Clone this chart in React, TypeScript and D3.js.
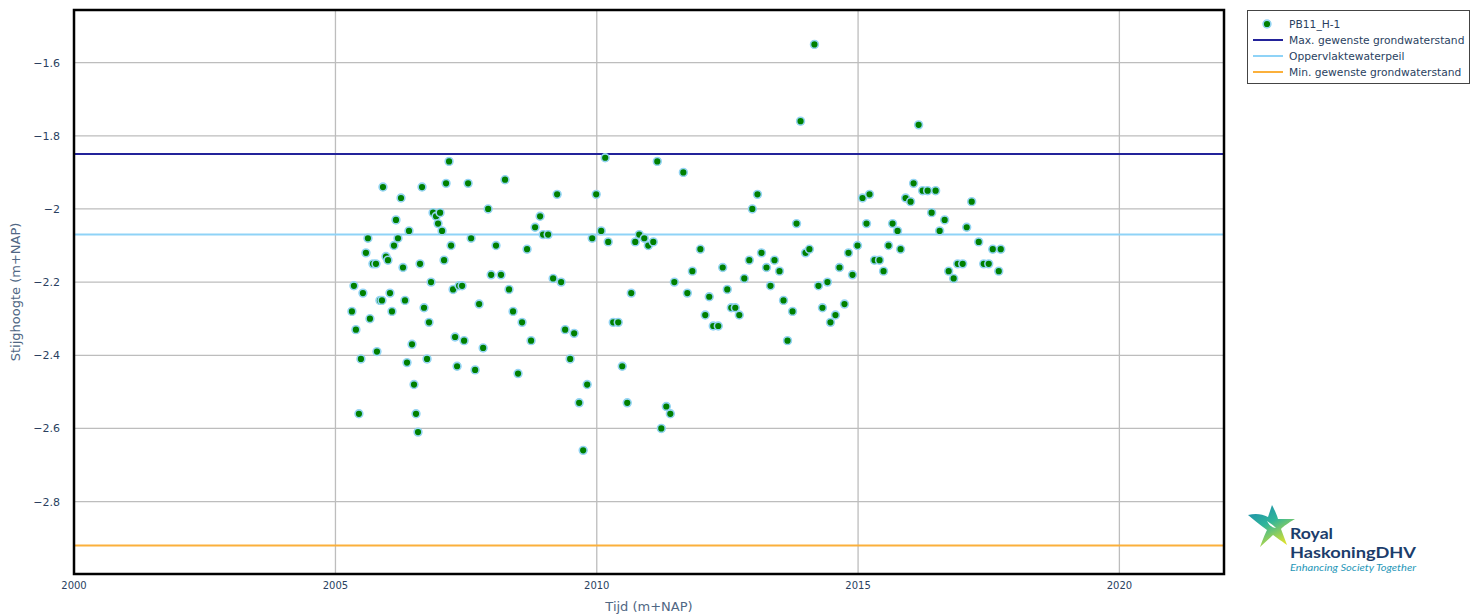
import React, { useEffect, useRef } from 'react';
import * as d3 from 'd3';

const seriesName = 'PB11_H-1';

const dates = [
  '2005-04-26', '2005-05-10', '2005-05-24', '2005-06-14', '2005-06-28', '2005-07-12', '2005-08-02', '2005-08-16',
  '2005-08-30', '2005-09-20', '2005-10-11', '2005-10-18', '2005-11-08', '2005-11-22', '2005-11-29', '2005-12-20',
  '2006-01-03', '2006-01-17', '2006-01-31', '2006-02-14', '2006-02-28', '2006-03-14', '2006-04-04', '2006-04-18',
  '2006-05-02', '2006-05-16', '2006-05-30', '2006-06-20', '2006-07-04', '2006-07-18', '2006-08-01', '2006-08-15',
  '2006-08-29', '2006-09-12', '2006-10-03', '2006-10-17', '2006-10-31', '2006-11-14', '2006-12-05', '2006-12-19',
  '2007-01-02', '2007-01-16', '2007-01-30', '2007-02-13', '2007-03-06', '2007-03-20', '2007-04-03', '2007-04-17',
  '2007-05-01', '2007-05-15', '2007-06-05', '2007-06-19', '2007-07-17', '2007-08-07', '2007-09-04', '2007-10-02',
  '2007-10-30', '2007-12-04', '2007-12-25', '2008-01-28', '2008-03-03', '2008-03-31', '2008-04-28', '2008-05-26',
  '2008-06-30', '2008-07-28', '2008-09-01', '2008-09-29', '2008-10-27', '2008-12-01', '2008-12-22', '2009-01-26',
  '2009-03-02', '2009-03-30', '2009-04-27', '2009-05-25', '2009-06-29', '2009-07-27', '2009-08-31', '2009-09-28',
  '2009-10-26', '2009-11-30', '2009-12-28', '2010-02-01', '2010-03-01', '2010-03-22', '2010-04-26', '2010-05-31',
  '2010-06-28', '2010-08-02', '2010-08-30', '2010-09-27', '2010-10-25', '2010-11-29', '2010-12-27', '2011-01-31',
  '2011-02-28', '2011-03-28', '2011-05-02', '2011-05-30', '2011-06-27', '2011-08-29', '2011-09-26', '2011-10-31',
  '2011-12-26', '2012-01-29', '2012-02-26', '2012-03-25', '2012-04-29', '2012-05-30', '2012-07-01', '2012-07-29',
  '2012-08-26', '2012-09-23', '2012-10-28', '2012-12-02', '2012-12-23', '2013-01-28', '2013-02-25', '2013-04-01',
  '2013-04-29', '2013-05-27', '2013-07-01', '2013-07-29', '2013-08-26', '2013-09-30', '2013-10-28', '2013-11-25',
  '2013-12-30', '2014-01-26', '2014-03-02', '2014-03-30', '2014-04-27', '2014-06-01', '2014-06-22', '2014-07-27',
  '2014-08-24', '2014-09-28', '2014-10-26', '2014-11-23', '2014-12-28', '2015-02-01', '2015-03-01', '2015-03-22',
  '2015-04-26', '2015-05-31', '2015-06-28', '2015-08-02', '2015-08-30', '2015-10-04', '2015-10-25', '2015-11-29',
  '2016-01-03', '2016-01-24', '2016-02-28', '2016-03-27', '2016-05-01', '2016-05-29', '2016-06-26', '2016-07-24',
  '2016-08-28', '2016-09-25', '2016-10-30', '2016-11-27', '2017-01-01', '2017-01-29', '2017-03-05', '2017-04-23',
  '2017-05-28', '2017-07-02', '2017-07-30', '2017-09-10', '2017-09-24',
];

const values = [
  -2.28, -2.21, -2.33, -2.56, -2.41, -2.23, -2.12, -2.08,
  -2.30, -2.15, -2.15, -2.39, -2.25, -2.25, -1.94, -2.13,
  -2.14, -2.23, -2.28, -2.10, -2.03, -2.08, -1.97, -2.16,
  -2.25, -2.42, -2.06, -2.37, -2.48, -2.56, -2.61, -2.15,
  -1.94, -2.27, -2.41, -2.31, -2.20, -2.01, -2.02, -2.04,
  -2.01, -2.06, -2.14, -1.93, -1.87, -2.10, -2.22, -2.35,
  -2.43, -2.21, -2.21, -2.36, -1.93, -2.08, -2.44, -2.26,
  -2.38, -2.00, -2.18, -2.10, -2.18, -1.92, -2.22, -2.28,
  -2.45, -2.31, -2.11, -2.36, -2.05, -2.02, -2.07, -2.07,
  -2.19, -1.96, -2.20, -2.33, -2.41, -2.34, -2.53, -2.66,
  -2.48, -2.08, -1.96, -2.06, -1.86, -2.09, -2.31, -2.31,
  -2.43, -2.53, -2.23, -2.09, -2.07, -2.08, -2.10, -2.09,
  -1.87, -2.60, -2.54, -2.56, -2.20, -1.90, -2.23, -2.17,
  -2.11, -2.29, -2.24, -2.32, -2.32, -2.16, -2.22, -2.27,
  -2.27, -2.29, -2.19, -2.14, -2.00, -1.96, -2.12, -2.16,
  -2.21, -2.14, -2.17, -2.25, -2.36, -2.28, -2.04, -1.76,
  -2.12, -2.11, -1.55, -2.21, -2.27, -2.20, -2.31, -2.29,
  -2.16, -2.26, -2.12, -2.18, -2.10, -1.97, -2.04, -1.96,
  -2.14, -2.14, -2.17, -2.10, -2.04, -2.06, -2.11, -1.97,
  -1.98, -1.93, -1.77, -1.95, -1.95, -2.01, -1.95, -2.06,
  -2.03, -2.17, -2.19, -2.15, -2.15, -2.05, -1.98, -2.09,
  -2.15, -2.15, -2.11, -2.17, -2.11,
];

const refNames = ['Max. gewenste grondwaterstand', 'Oppervlaktewaterpeil', 'Min. gewenste grondwaterstand'];
const refLevels = [-1.85, -2.07, -2.92];
const refColors = ['#23239a', '#8fd3f7', '#fbb03b'];

const xTickYears = [2000, 2005, 2010, 2015, 2020];
const yTicks = [-1.6, -1.8, -2, -2.2, -2.4, -2.6, -2.8];

const W = 1470;
const H = 614;
const margin = { left: 74, right: 246, top: 10, bottom: 40 };

const App: React.FC = () => {
  const svgRef = useRef<SVGSVGElement | null>(null);

  useEffect(() => {
    if (!svgRef.current) return;
    const svg = d3.select(svgRef.current);
    svg.selectAll('*').remove();

    const x0 = margin.left;
    const x1 = W - margin.right;
    const y0 = margin.top;
    const y1 = H - margin.bottom;

    const x = d3
      .scaleTime()
      .domain([new Date(2000, 0, 1), new Date(2022, 0, 1)])
      .range([x0, x1]);
    const y = d3.scaleLinear().domain([-2.998, -1.456]).range([y1, y0]);

    const tickColor = '#2a3f5f';
    const titleColor = '#506784';
    const font = 'DejaVu Sans, Verdana, sans-serif';

    // grid
    const grid = svg.append('g');
    grid
      .selectAll('line.gx')
      .data(xTickYears)
      .enter()
      .append('line')
      .attr('x1', (d) => x(new Date(d, 0, 1)))
      .attr('x2', (d) => x(new Date(d, 0, 1)))
      .attr('y1', y0)
      .attr('y2', y1)
      .attr('stroke', '#bdbdbd')
      .attr('stroke-width', 1.3);
    grid
      .selectAll('line.gy')
      .data(yTicks)
      .enter()
      .append('line')
      .attr('x1', x0)
      .attr('x2', x1)
      .attr('y1', (d) => y(d))
      .attr('y2', (d) => y(d))
      .attr('stroke', '#bdbdbd')
      .attr('stroke-width', 1.3);

    // reference levels
    svg
      .append('g')
      .selectAll('line')
      .data(refLevels)
      .enter()
      .append('line')
      .attr('x1', x0)
      .attr('x2', x1)
      .attr('y1', (d) => y(d))
      .attr('y2', (d) => y(d))
      .attr('stroke', (_, i) => refColors[i])
      .attr('stroke-width', 2);

    // points
    const pts = dates.map((d, i) => ({ date: new Date(d), value: values[i] }));
    svg
      .append('g')
      .selectAll('circle')
      .data(pts)
      .enter()
      .append('circle')
      .attr('cx', (d) => x(d.date))
      .attr('cy', (d) => y(d.value))
      .attr('r', 3.9)
      .attr('fill', '#008000')
      .attr('stroke', '#94d4f3')
      .attr('stroke-width', 1.6);

    // frame
    svg
      .append('rect')
      .attr('x', x0)
      .attr('y', y0)
      .attr('width', x1 - x0)
      .attr('height', y1 - y0)
      .attr('fill', 'none')
      .attr('stroke', '#000')
      .attr('stroke-width', 2.5);

    // tick labels
    svg
      .append('g')
      .selectAll('text')
      .data(xTickYears)
      .enter()
      .append('text')
      .attr('x', (d) => x(new Date(d, 0, 1)))
      .attr('y', y1 + 15)
      .attr('text-anchor', 'middle')
      .attr('font-family', font)
      .attr('font-size', 10)
      .attr('fill', tickColor)
      .text((d) => String(d));

    svg
      .append('g')
      .selectAll('text')
      .data(yTicks)
      .enter()
      .append('text')
      .attr('x', x0 - 14)
      .attr('y', (d) => y(d) + 4)
      .attr('text-anchor', 'end')
      .attr('font-family', font)
      .attr('font-size', 11)
      .attr('fill', tickColor)
      .text((d) => d3.format('.1~f')(d).replace('-', '\u2212'));

    // axis titles
    svg
      .append('text')
      .attr('x', (x0 + x1) / 2)
      .attr('y', H - 3)
      .attr('text-anchor', 'middle')
      .attr('font-family', font)
      .attr('font-size', 13)
      .attr('fill', titleColor)
      .text('Tijd (m+NAP)');
    svg
      .append('text')
      .attr('transform', `translate(20, ${(y0 + y1) / 2}) rotate(-90)`)
      .attr('text-anchor', 'middle')
      .attr('font-family', font)
      .attr('font-size', 13)
      .attr('fill', titleColor)
      .text('Stijghoogte (m+NAP)');

    // legend
    const lg = svg.append('g').attr('transform', 'translate(1247, 10)');
    lg.append('rect')
      .attr('x', 0.5)
      .attr('y', 0.5)
      .attr('width', 222)
      .attr('height', 73)
      .attr('fill', '#fff')
      .attr('stroke', '#444')
      .attr('stroke-width', 1);
    const rows = [seriesName, ...refNames];
    rows.forEach((name, i) => {
      const cy = 14 + i * 16;
      if (i === 0) {
        lg.append('circle')
          .attr('cx', 20)
          .attr('cy', cy)
          .attr('r', 3.9)
          .attr('fill', '#008000')
          .attr('stroke', '#94d4f3')
          .attr('stroke-width', 1.6);
      } else {
        lg.append('line')
          .attr('x1', 6)
          .attr('x2', 36)
          .attr('y1', cy)
          .attr('y2', cy)
          .attr('stroke', refColors[i - 1])
          .attr('stroke-width', 2);
      }
      lg.append('text')
        .attr('x', 42)
        .attr('y', cy + 4)
        .attr('font-family', font)
        .attr('font-size', 10.7)
        .attr('fill', '#2a3f5f')
        .text(name);
    });

    // logo
    const logo = svg.append('g').attr('transform', 'translate(1248, 505)');
    const defs = svg.append('defs');
    const grad = defs
      .append('linearGradient')
      .attr('id', 'starGrad')
      .attr('x1', '0')
      .attr('y1', '0')
      .attr('x2', '0.6')
      .attr('y2', '1');
    grad.append('stop').attr('offset', '0').attr('stop-color', '#1a86b0');
    grad.append('stop').attr('offset', '0.5').attr('stop-color', '#2fb59a');
    grad.append('stop').attr('offset', '1').attr('stop-color', '#d8e030');
    logo
      .append('path')
      .attr(
        'd',
        'M0,10 C8,8 14,9 20,12 L24,0 C27,6 29,10 30,14 L47,14 C40,18 36,21 33,24 L39,40 C32,35 28,32 25,30 L12,42 C15,34 17,29 19,25 C12,20 6,15 0,10 Z M19,16 C21,20 24,23 28,23 C25,20 22,18 19,16 Z'
      )
      .attr('fill', 'url(#starGrad)')
      .attr('fill-rule', 'evenodd');
    logo
      .append('text')
      .attr('x', 42)
      .attr('y', 34)
      .attr('font-family', 'Lato, sans-serif')
      .attr('font-weight', 700)
      .attr('font-size', 15)
      .attr('fill', '#1c3d6c')
      .attr('textLength', 43)
      .attr('lengthAdjust', 'spacingAndGlyphs')
      .text('Royal');
    logo
      .append('text')
      .attr('x', 42)
      .attr('y', 52.5)
      .attr('font-family', 'Lato, sans-serif')
      .attr('font-weight', 700)
      .attr('font-size', 15)
      .attr('fill', '#1c3d6c')
      .attr('textLength', 126)
      .attr('lengthAdjust', 'spacingAndGlyphs')
      .text('HaskoningDHV');
    logo
      .append('text')
      .attr('x', 42)
      .attr('y', 65.5)
      .attr('font-family', 'Lato, sans-serif')
      .attr('font-style', 'italic')
      .attr('font-size', 9.5)
      .attr('fill', '#1f97b8')
      .attr('textLength', 126)
      .attr('lengthAdjust', 'spacingAndGlyphs')
      .text('Enhancing Society Together');
  }, []);

  return (
    <div style={{ position: 'absolute', left: 0, top: 0 }}>
      <svg ref={svgRef} width={W} height={H} style={{ display: 'block', background: '#fff' }}></svg>
    </div>
  );
};

export default App;
